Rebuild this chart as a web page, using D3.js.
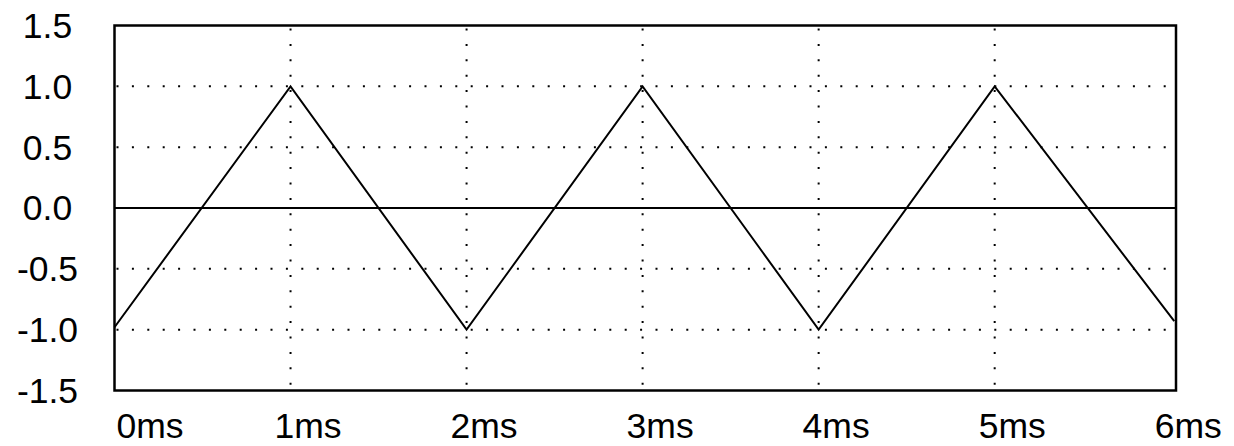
<!DOCTYPE html>
<html>
<head>
<meta charset="utf-8">
<script src="https://cdn.jsdelivr.net/npm/d3@7"></script>
<style>
  body { margin: 0; background: #fff; }
  svg { display: block; font-family: "Liberation Sans", Arial, sans-serif; }
</style>
</head>
<body>
<svg id="chart" width="1234" height="446"></svg>
<script>
// triangle wave samples (time in ms, amplitude)
const times = [0, 1, 2, 3, 4, 5, 6.02];
const values = [-0.98, 1, -1, 1, -1, 1, -0.93];
const xTicks = [0, 1, 2, 3, 4, 5, 6];
const xLabels = ["0ms", "1ms", "2ms", "3ms", "4ms", "5ms", "6ms"];
const yTicks = [1.5, 1.0, 0.5, 0.0, -0.5, -1.0, -1.5];
const yLabels = ["1.5", "1.0", "0.5", "0.0", "-0.5", "-1.0", "-1.5"];

const svg = d3.select("#chart");
const plotL = 114.5, plotR = 1176, plotT = 25.5, plotB = 390.5;

const x = d3.scaleLinear().domain([0, 6.03]).range([plotL, plotR]);
const y = d3.scaleLinear().domain([-1.5, 1.5]).range([plotB, plotT]);

// dotted grid
const grid = svg.append("g").attr("stroke", "#000").attr("stroke-width", 2)
  .attr("stroke-dasharray", "2,13.4");
grid.selectAll("line.h")
  .data(yTicks.filter((v) => Math.abs(v) > 0 && Math.abs(v) < 1.5))
  .join("line")
  .attr("class", "h")
  .attr("x1", plotL + 2).attr("x2", plotR)
  .attr("y1", (d) => y(d)).attr("y2", (d) => y(d));
grid.selectAll("line.v")
  .data(xTicks.filter((t) => t > 0 && t < 6))
  .join("line")
  .attr("class", "v")
  .attr("x1", (d) => x(d)).attr("x2", (d) => x(d))
  .attr("y1", plotT + 3).attr("y2", plotB);

// zero line
svg.append("line")
  .attr("x1", plotL).attr("x2", plotR)
  .attr("y1", y(0)).attr("y2", y(0))
  .attr("stroke", "#000").attr("stroke-width", 2);

// signal
const line = d3.line().x((d, i) => x(times[i])).y((d) => y(d));
svg.append("path")
  .attr("d", line(values))
  .attr("fill", "none")
  .attr("stroke", "#000")
  .attr("stroke-width", 2);

// frame
svg.append("rect")
  .attr("x", plotL).attr("y", plotT)
  .attr("width", plotR - plotL).attr("height", plotB - plotT)
  .attr("fill", "none").attr("stroke", "#000").attr("stroke-width", 2.5);

// y labels
svg.append("g").selectAll("text")
  .data(yTicks)
  .join("text")
  .attr("x", 47.5)
  .attr("y", (d) => y(d))
  .attr("dy", "0.35em")
  .attr("text-anchor", "middle")
  .attr("font-size", 35.5)
  .text((d, i) => yLabels[i]);

// x labels
svg.append("g").selectAll("text")
  .data(xTicks)
  .join("text")
  .attr("x", (d) => (d === 0 ? x(d) + 2 : x(d) + 17.5))
  .attr("y", 438)
  .attr("text-anchor", (d) => (d === 0 ? "start" : "middle"))
  .attr("font-size", 35.5)
  .text((d, i) => xLabels[i]);
</script>
</body>
</html>
